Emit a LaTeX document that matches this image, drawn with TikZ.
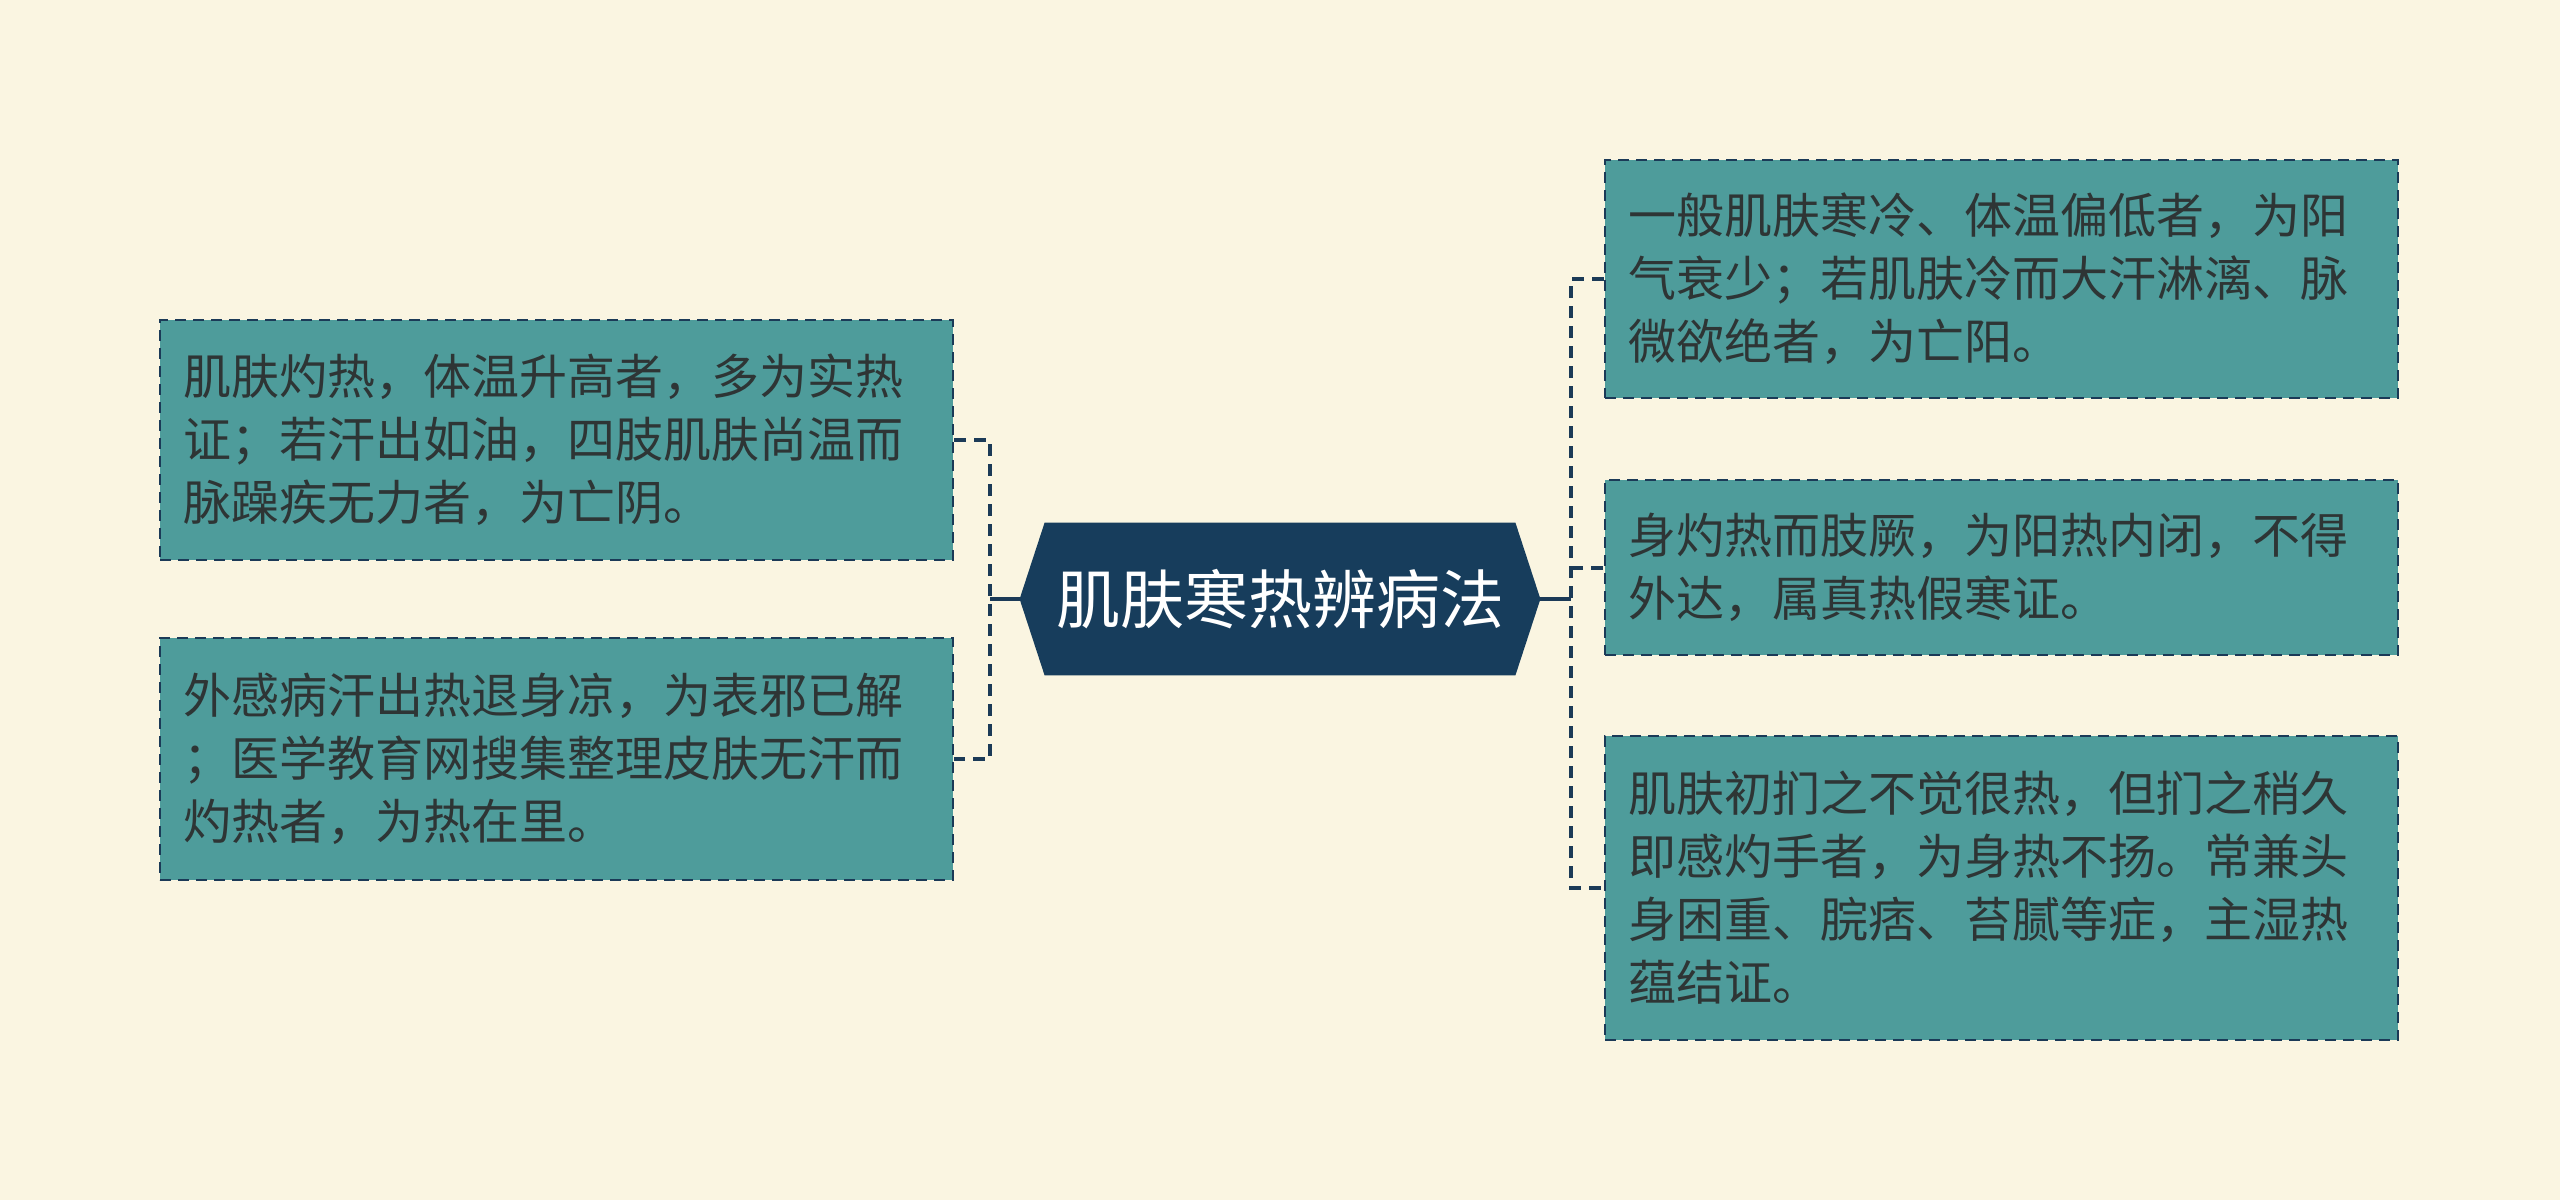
\documentclass[tikz,border=0pt]{standalone}
\usepackage{fontspec}
\setmainfont{Noto Sans CJK SC}
\usetikzlibrary{backgrounds}
\definecolor{bgc}{HTML}{FAF5E1}
\definecolor{teal}{HTML}{4E9C9B}
\definecolor{navy}{HTML}{173D5C}
\definecolor{edge}{HTML}{1B3A57}
\definecolor{txt}{HTML}{2E3535}
\tikzset{
  leaf/.style={draw=edge, fill=teal, line width=1.3pt, dash pattern=on 5.5pt off 3.5pt, minimum width=396.5pt, inner sep=0pt},
  leaftext/.style={anchor=west, text=txt, align=left, inner sep=0pt, font=\fontsize{24pt}{31.5pt}\selectfont},
  conn/.style={draw=edge, line width=2pt},
  dconn/.style={draw=edge, line width=2pt, dash pattern=on 6pt off 4pt},
}
\begin{document}
\begin{tikzpicture}[x=0.5pt, y=-0.5pt]
\useasboundingbox (0,0) rectangle (2560,1200);

% central node
\node[minimum width=260pt, minimum height=76pt, inner sep=0pt, text=white, font=\fontsize{32pt}{38pt}\selectfont] (C) at (1280,599) {肌肤寒热辨病法};
\begin{scope}[on background layer]
\fill[bgc] (0,0) rectangle (2560,1200);
\fill[navy] (C.west) -- ([xshift=12.5pt]C.north west) -- ([xshift=-12.5pt]C.north east) -- (C.east) -- ([xshift=-12.5pt]C.south east) -- ([xshift=12.5pt]C.south west) -- cycle;
\end{scope}

% left boxes
\node[leaf, minimum height=120pt] (L1) at (556.5,440) {};
\node[leaftext] (L1t) at ([xshift=12pt]L1.west) {肌肤灼热，体温升高者，多为实热\\证；若汗出如油，四肢肌肤尚温而\\脉躁疾无力者，为亡阴。};
\node[leaf, minimum height=121pt] (L2) at (556.5,759) {};
\node[leaftext] (L2t) at ([xshift=12pt]L2.west) {外感病汗出热退身凉，为表邪已解\\；医学教育网搜集整理皮肤无汗而\\灼热者，为热在里。};

% right boxes
\node[leaf, minimum height=119pt] (R1) at (2001.5,279) {};
\node[leaftext] (R1t) at ([xshift=12pt]R1.west) {一般肌肤寒冷、体温偏低者，为阳\\气衰少；若肌肤冷而大汗淋漓、脉\\微欲绝者，为亡阳。};
\node[leaf, minimum height=87.5pt] (R2) at (2001.5,567.5) {};
\node[leaftext] (R2t) at ([xshift=12pt]R2.west) {身灼热而肢厥，为阳热内闭，不得\\外达，属真热假寒证。};
\node[leaf, minimum height=152pt] (R3) at (2001.5,888) {};
\node[leaftext] (R3t) at ([xshift=12pt]R3.west) {肌肤初扪之不觉很热，但扪之稍久\\即感灼手者，为身热不扬。常兼头\\身困重、脘痞、苔腻等症，主湿热\\蕴结证。};

% connectors
\coordinate (lj) at (990,599);
\coordinate (rj) at (1571,599);
\draw[conn] (C.west) -- (lj);
\draw[dconn] (L1.east) -- (lj |- L1.east) -- (lj |- L2.east) -- (L2.east);
\draw[conn] (C.east) -- (rj);
\draw[dconn] (R1.west) -- (rj |- R1.west) -- (rj |- R3.west) -- (R3.west);
\draw[dconn] (rj |- R2.west) -- (R2.west);
\end{tikzpicture}
\end{document}
